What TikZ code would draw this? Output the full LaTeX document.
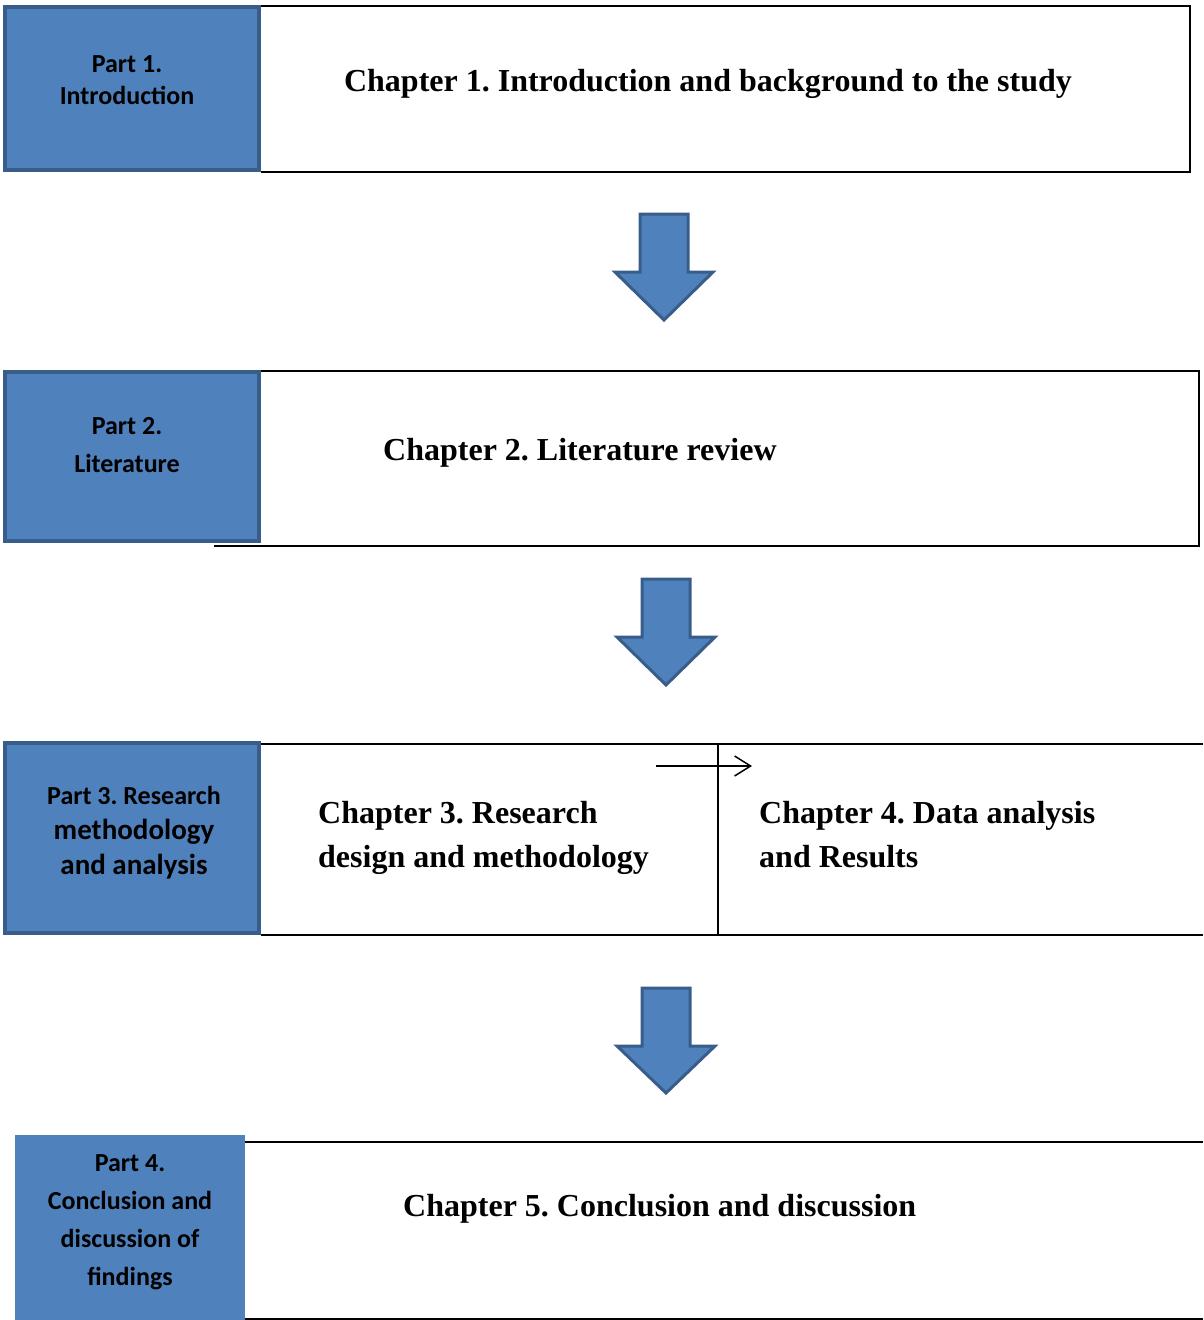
\documentclass[tikz,border=0pt]{standalone}
\usepackage{fontspec}
\setmainfont{Liberation Serif}
\newfontfamily\calib{Carlito}
\usetikzlibrary{arrows.meta}
\definecolor{bluefill}{HTML}{4F81BD}
\definecolor{blueline}{HTML}{385D8A}
\frenchspacing
\tikzset{
  partbox/.style={fill=bluefill, draw=blueline, line width=4pt, inner sep=0pt, outer sep=0pt},
  flatbox/.style={fill=bluefill, inner sep=0pt, outer sep=0pt},
  chapline/.style={draw=black, line width=2pt},
  blockarrow/.style={fill=bluefill, draw=blueline, line width=3pt, line join=miter},
  chaptext/.style={font=\fontsize{32}{44}\selectfont\bfseries, inner sep=0pt, anchor=base},
  chaptextl/.style={font=\fontsize{32}{44}\selectfont\bfseries, inner sep=0pt, anchor=base west, align=left},
  parttext/.style={font=\calib\fontsize{26}{32}\selectfont\bfseries, inner sep=0pt, align=center},
}
\begin{document}
\begin{tikzpicture}[x=1pt,y=-1pt]
\useasboundingbox (0,0) rectangle (1203,1320);
% chapter frames
\draw[chapline] (261,6) -- (1190,6) -- (1190,172) -- (261,172);
\draw[chapline] (261,371) -- (1199,371) -- (1199,546) -- (214,546);
\draw[chapline] (261,744) -- (1203,744);
\draw[chapline] (261,935) -- (1203,935);
\draw[chapline] (718,744) -- (718,935);
\draw[chapline] (245,1142) -- (1203,1142);
\draw[chapline] (245,1319) -- (1203,1319);
% part boxes
\node[partbox, minimum width=254pt, minimum height=163pt] (p1) at (132,88.5) {};
\node[partbox, minimum width=254pt, minimum height=169pt] (p2) at (132,456.5) {};
\node[partbox, minimum width=254pt, minimum height=190pt] (p3) at (132,838) {};
\node[flatbox, minimum width=230pt, minimum height=185pt] (p4) at (130,1227.5) {};
% part texts
\node[parttext] (t1) at (127,80) {Part 1.\\Introduction};
\node[parttext, font=\calib\fontsize{26}{38}\selectfont\bfseries] (t2) at (127,445) {Part 2.\\Literature};
\node[parttext, font=\calib\fontsize{29}{35}\selectfont\bfseries] (t3) at (134,832.5) {{\fontsize{26}{35}\selectfont Part 3. Research}\\methodology\\and analysis};
\node[parttext, font=\calib\fontsize{26}{38}\selectfont\bfseries] (t4) at (130,1222) {Part 4.\\Conclusion and\\discussion of\\findings};
% chapter texts
\node[chaptext] (c1) at (708,91) {Chapter 1. Introduction and background to the study};
\node[chaptextl] (c2) at (383,460) {Chapter 2. Literature review};
\node[chaptextl] (c3) at (318,823) {Chapter 3. Research};
\node[chaptextl] (c3b) at (318,867) {design and methodology};
\node[chaptextl] (c4) at (759,823) {Chapter 4. Data analysis};
\node[chaptextl] (c4b) at (759,867) {and Results};
\node[chaptextl] (c5) at (403,1216) {Chapter 5. Conclusion and discussion};
% block arrows
\draw[blockarrow] (640,214) -- (688,214) -- (688,272) -- (713,272) -- (664,320) -- (615,272) -- (640,272) -- cycle;
\draw[blockarrow] (642,579) -- (690,579) -- (690,637) -- (715,637) -- (666,685) -- (617,637) -- (642,637) -- cycle;
\draw[blockarrow] (642,988) -- (690,988) -- (690,1046) -- (715,1046) -- (666,1093) -- (617,1046) -- (642,1046) -- cycle;
% small arrow
\coordinate (sa) at (656,766);
\coordinate (sb) at (752,766);
\draw[line width=1.5pt, -{Straight Barb[length=16pt,width=20pt,line width=1.5pt]}] (sa) -- (sb);
\end{tikzpicture}
\end{document}
